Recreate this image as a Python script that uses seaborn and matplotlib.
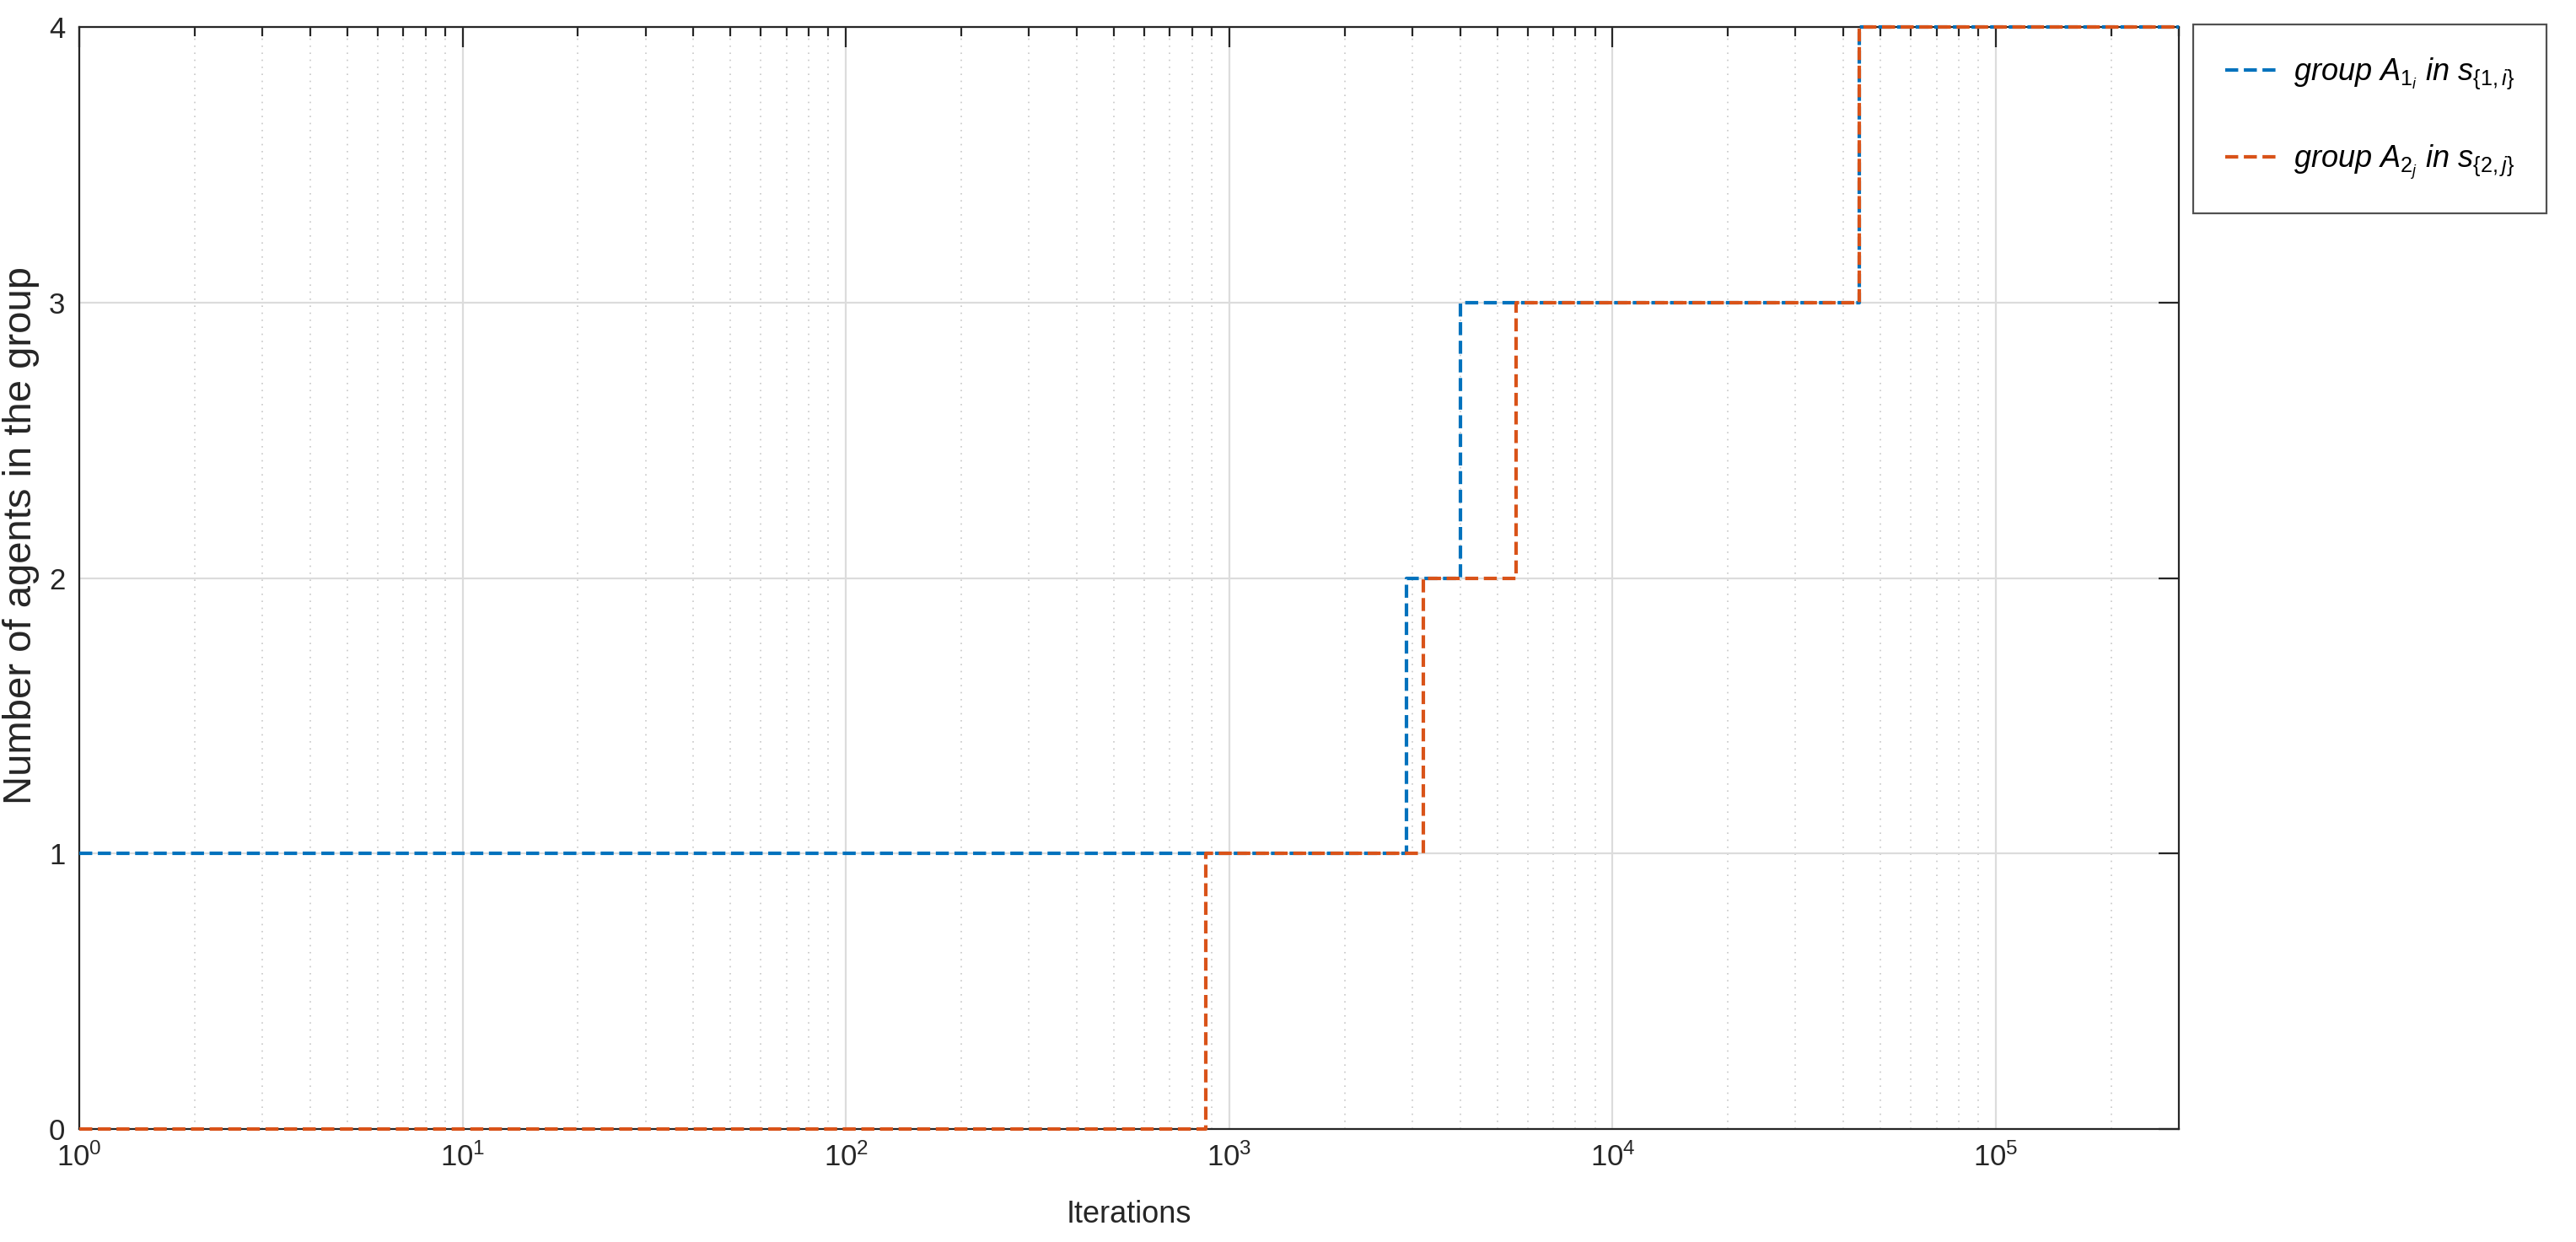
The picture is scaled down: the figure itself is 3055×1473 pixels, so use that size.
import numpy as np
import pandas as pd
import matplotlib
matplotlib.use("Agg")
import matplotlib.pyplot as plt
import seaborn as sns
from matplotlib.ticker import LogLocator

# step data (iteration where the count changes)
iters_1 = [1, 2900, 4000, 44000, 300000]
count_1 = [1, 2, 3, 4, 4]
iters_2 = [1, 868, 3200, 5600, 44000, 300000]
count_2 = [0, 1, 2, 3, 4, 4]

labels = [r"$\mathit{group\ A_{1_i}\ in\ s_{\{1,i\}}}$",
          r"$\mathit{group\ A_{2_j}\ in\ s_{\{2,j\}}}$"]
colors = ["#0072BD", "#D95319"]

sns.set_style("white")
plt.rcParams['font.family'] = ['Liberation Sans', 'DejaVu Sans']
plt.rcParams['mathtext.fontset'] = 'custom'
plt.rcParams['mathtext.rm'] = 'Liberation Sans'
plt.rcParams['mathtext.it'] = 'Liberation Sans:italic'
plt.rcParams['mathtext.bf'] = 'Liberation Sans:bold'

AX_COLOR = "#262626"

fig = plt.figure(figsize=(15.275, 7.365), dpi=200)
ax = fig.add_axes([94 / 3055, 1 - 1339 / 1473, (2584 - 94) / 3055, (1339 - 32) / 1473])

df1 = pd.DataFrame({"iter": iters_1, "n": count_1})
df2 = pd.DataFrame({"iter": iters_2, "n": count_2})
for d, c, lab in zip([df1, df2], colors, labels):
    sns.lineplot(data=d, x="iter", y="n", ax=ax, color=c, label=lab,
                 drawstyle="steps-post", linestyle="--", dashes=(3, 3),
                 linewidth=1.5, clip_on=False, zorder=5)

ax.set_xscale("log")
ax.set_xlim(1, 300000)
ax.set_ylim(0, 4)
ax.set_yticks([0, 1, 2, 3, 4])
ax.xaxis.set_major_locator(LogLocator(base=10, numticks=10))
ax.xaxis.set_minor_locator(LogLocator(base=10, subs=np.arange(2, 10), numticks=20))

ax.grid(True, which="major", color="#dcdcdc", linewidth=0.8, linestyle="-")
ax.grid(True, which="minor", axis="x", color="#c8c8c8", linewidth=0.6, linestyle=(0, (1, 4)))
ax.set_axisbelow(True)

ax.tick_params(which="both", direction="in", top=True, right=True, colors=AX_COLOR,
               labelsize=12.5, width=0.8)
ax.tick_params(which="major", length=8.5, pad=6)
ax.tick_params(which="minor", length=4)
for s in ax.spines.values():
    s.set_color(AX_COLOR)
    s.set_linewidth(0.8)

ax.set_xlabel("Iterations", fontsize=13, color=AX_COLOR, labelpad=12)
ax.set_ylabel("Number of agents in the group", fontsize=17, color=AX_COLOR)
ax.yaxis.set_label_coords(-0.019, 0.539)

leg = ax.legend(loc="upper left", bbox_to_anchor=(2601 / 3055, 1 - 29 / 1473),
                bbox_transform=fig.transFigure, borderaxespad=0, fontsize=13,
                frameon=True, fancybox=False, edgecolor=AX_COLOR, handlelength=1.8,
                handletextpad=0.45, labelspacing=1.7, borderpad=1.05)
leg.get_frame().set_linewidth(0.8)
for t in leg.get_texts():
    t.set_color("black")

fig.savefig("out.png", dpi=200)
